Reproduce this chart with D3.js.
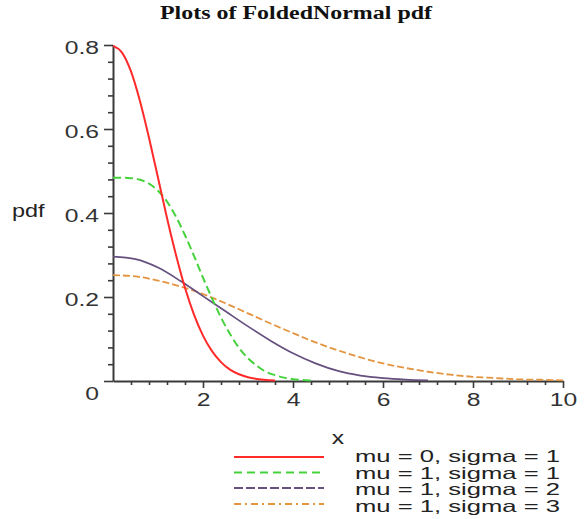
<!DOCTYPE html>
<html>
<head>
<meta charset="utf-8">
<script src="https://cdn.jsdelivr.net/npm/d3@7"></script>
<style>
  body { margin: 0; background: #fff; }
  svg { display: block; }
</style>
</head>
<body>
<svg id="chart"></svg>
<script>
// x grids the curves were read on
const xFine = [0, 0.2, 0.4, 0.6, 0.8, 1.0, 1.2, 1.4, 1.6, 1.8, 2.0, 2.2, 2.4, 2.6, 2.8, 3.0, 3.2, 3.4, 3.6, 3.8, 4.0, 4.2, 4.4];
const xCoarse = [0, 0.5, 1.0, 1.5, 2.0, 2.5, 3.0, 3.5, 4.0, 4.5, 5.0, 5.5, 6.0, 6.5, 7.0, 7.5, 8.0, 8.5, 9.0, 9.5, 10];

// pdf values
const red = [0.798, 0.782, 0.737, 0.666, 0.579, 0.484, 0.388, 0.300, 0.222, 0.158, 0.108, 0.071, 0.045, 0.027, 0.016, 0.009, 0.005, 0.0025, 0.0012];
const green = [0.484, 0.484, 0.483, 0.479, 0.470, 0.453, 0.427, 0.391, 0.347, 0.298, 0.246, 0.197, 0.151, 0.112, 0.079, 0.054, 0.036, 0.022, 0.014, 0.008, 0.0044, 0.0024, 0.0012];
const purple = [0.296, 0.290, 0.270, 0.238, 0.202, 0.166, 0.130, 0.096, 0.066, 0.042, 0.024, 0.013, 0.007, 0.0035, 0.0015];
const orange = [0.252, 0.249, 0.239, 0.225, 0.207, 0.185, 0.161, 0.137, 0.114, 0.092, 0.073, 0.056, 0.042, 0.031, 0.022, 0.015, 0.010, 0.007, 0.004, 0.003, 0.0016];

const legendLabels = ["mu = 0, sigma = 1", "mu = 1, sigma = 1", "mu = 1, sigma = 2", "mu = 1, sigma = 3"];
const xTicks = [2, 4, 6, 8, 10];
const yTicks = [0, 0.2, 0.4, 0.6, 0.8];

let width = 585;
let height = 519;
const sx = 1.3; // the picture is stretched sideways

let svg = d3.select("#chart")
    .attr("width", width)
    .attr("height", height);

let x = d3.scaleLinear().domain([0, 10]).range([113, 563]);
let y = d3.scaleLinear().domain([0, 0.8]).range([381, 45]);

// text drawn stretched like the original
function stretchText(sel, px, py, str, size, anchor, family, weight) {
    return sel.append("text")
        .attr("transform", `translate(${px},${py}) scale(${sx},1)`)
        .attr("text-anchor", anchor)
        .style("font-family", family || "'Liberation Sans', Arial, sans-serif")
        .style("font-size", size + "px")
        .style("font-weight", weight || "normal")
        .text(str);
}

// title
svg.append("text")
    .attr("x", 160)
    .attr("y", 19)
    .attr("textLength", 272)
    .attr("lengthAdjust", "spacingAndGlyphs")
    .style("font-family", "'Liberation Serif', 'Times New Roman', serif")
    .style("font-size", "18px")
    .style("font-weight", "bold")
    .attr("fill", "#111")
    .text("Plots of FoldedNormal pdf");

// axes
let axisCol = "#3a3a3a";

let minorY = d3.range(1, 20).map(i => i * 0.04).filter(v => Math.abs(v / 0.2 - Math.round(v / 0.2)) > 1e-6);
let minorX = d3.range(1, 26).map(i => i * 0.4).filter(v => Math.abs(v / 2 - Math.round(v / 2)) > 1e-6);

let gy = svg.append("g")
    .attr("transform", `translate(${x(0)},0)`)
    .call(d3.axisLeft(y).tickValues(yTicks).tickSize(9).tickSizeOuter(0)
        .tickFormat(d => d === 0 ? "0" : d3.format(".1f")(d)));
gy.append("g").call(d3.axisLeft(y).tickValues(minorY).tickSize(5).tickFormat(""))
    .select(".domain").remove();

let gx = svg.append("g")
    .attr("transform", `translate(0,${y(0)})`)
    .call(d3.axisBottom(x).tickValues(xTicks).tickSize(7).tickSizeOuter(0));
gx.append("g").call(d3.axisBottom(x).tickValues(minorX).tickSize(4).tickFormat(""))
    .select(".domain").remove();

svg.selectAll(".domain").attr("stroke", axisCol).attr("stroke-width", 2);
svg.selectAll(".tick line").attr("stroke", axisCol).attr("stroke-width", 1.6);

gy.selectAll(".tick text")
    .attr("x", -14 / sx)
    .attr("dy", d => d === 0 ? "0.95em" : "0.45em")
    .attr("transform", `scale(${sx},1)`)
    .style("font-family", "'Liberation Sans', Arial, sans-serif")
    .style("font-size", "19px")
    .attr("fill", "#333");

gx.selectAll(".tick text")
    .attr("y", 25)
    .attr("dy", 0)
    .attr("transform", `scale(${sx},1)`)
    .style("font-family", "'Liberation Sans', Arial, sans-serif")
    .style("font-size", "19px")
    .attr("fill", "#333");

// axis titles
stretchText(svg, 12, 217, "pdf", 18, "start").attr("fill", "#222");
stretchText(svg, 338, 444, "x", 19, "middle").attr("fill", "#222");

// curves
let series = [
    { xs: xFine, ys: red, color: "#ff2a2a", dash: null, legendDash: null, w: 2 },
    { xs: xFine, ys: green, color: "#46d23c", dash: "8,4", legendDash: "8,5", w: 2 },
    { xs: xCoarse, ys: purple, color: "#65507e", dash: null, legendDash: "9,3", w: 1.7 },
    { xs: xCoarse, ys: orange, color: "#e39542", dash: "7,3", legendDash: "7,4,2,4", w: 1.8 }
];

let line = d3.line()
    .x(d => x(d[0]))
    .y(d => y(d[1]))
    .curve(d3.curveMonotoneX);

// draw back to front so the red curve stays on top
series.slice().reverse().forEach(s => {
    svg.append("path")
        .datum(s.ys.map((v, i) => [s.xs[i], v]))
        .attr("d", line)
        .attr("fill", "none")
        .attr("stroke", s.color)
        .attr("stroke-width", s.w)
        .attr("stroke-dasharray", s.dash);
});

// legend (rows sit tight, as in the original)
let legendLineY = [457, 472.5, 488, 504];
let legendTextY = [462, 478.5, 495, 511.5];
let lg = svg.append("g");
series.forEach((s, i) => {
    lg.append("line")
        .attr("x1", 234).attr("x2", 324)
        .attr("y1", legendLineY[i]).attr("y2", legendLineY[i])
        .attr("stroke", s.color)
        .attr("stroke-width", 2)
        .attr("stroke-dasharray", s.legendDash);
    lg.append("text")
        .attr("x", 355)
        .attr("y", legendTextY[i])
        .attr("textLength", 205)
        .attr("lengthAdjust", "spacingAndGlyphs")
        .style("font-family", "'Liberation Sans', Arial, sans-serif")
        .style("font-size", "16.5px")
        .attr("fill", "#222")
        .text(legendLabels[i]);
});
</script>
</body>
</html>
